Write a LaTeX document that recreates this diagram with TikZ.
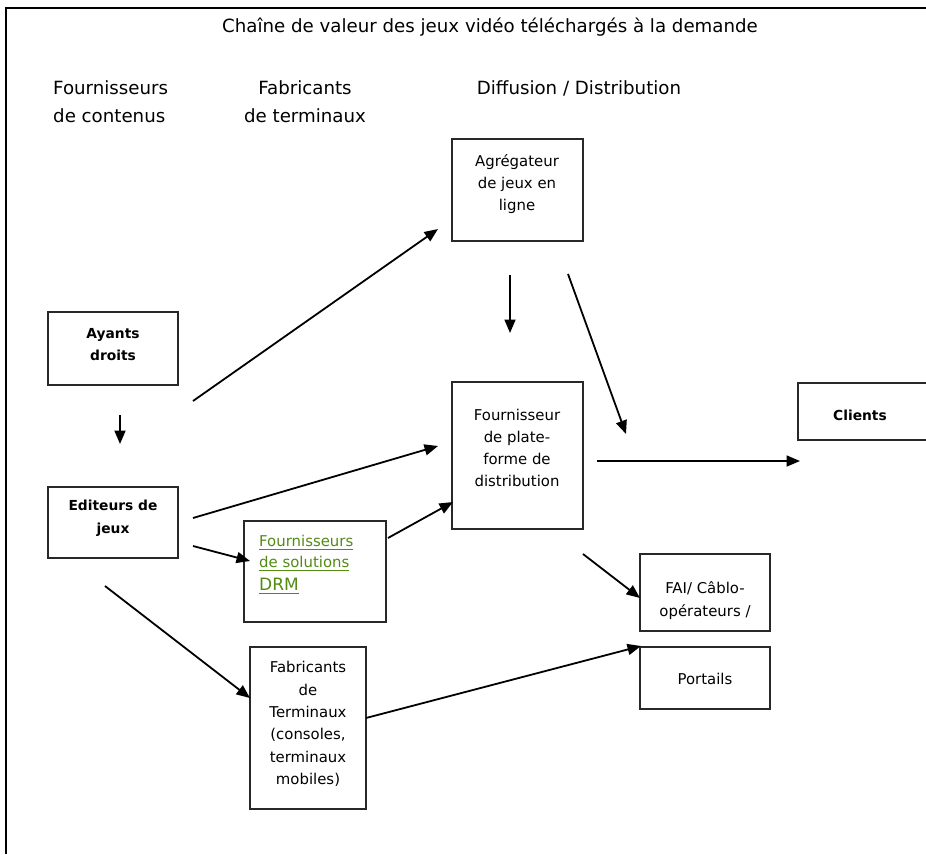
\documentclass[tikz,border=0pt]{standalone}
\usepackage{fontspec}
\setmainfont{DejaVu Sans}
\usetikzlibrary{arrows.meta}
\definecolor{drmgreen}{RGB}{82,138,18}
\definecolor{boxline}{RGB}{40,40,40}
\newsavebox\ulbox
\newcommand\gul[1]{\sbox\ulbox{#1}\leavevmode\rlap{\raisebox{-3.6pt}{\rule{\wd\ulbox}{1.7pt}}}\usebox\ulbox}
\tikzset{
  box/.style={draw=boxline, line width=1.4pt, inner sep=0pt, rectangle},
  boxtext/.style={inner sep=0pt, align=center, font=\fontsize{14.9}{22.2}\selectfont},
  boldtext/.style={inner sep=0pt, align=center, font=\fontsize{13.8}{22.5}\selectfont\bfseries},
  headtext/.style={inner sep=0pt, font=\fontsize{18.2}{28}\selectfont},
  conn/.style={line width=1.8pt, -{Triangle[length=13.5pt,width=11pt]}},
  frame/.style={line width=1.3pt}
}
\begin{document}
\begin{tikzpicture}[x=1pt,y=-1pt]
\useasboundingbox (0,0) rectangle (926,854);
% frame
\coordinate (fTL) at (6,8);
\coordinate (fTR) at (926,8);
\coordinate (fBL) at (6,854);
\draw[frame] (fTR) -- (fTL) -- (fBL);
% headers
\node[headtext] (title) at (490,27) {Chaîne de valeur des jeux vidéo téléchargés à la demande};
\node[headtext, align=left, anchor=west] (h1) at (53,102) {Fournisseurs\\de contenus};
\node[headtext, align=center] (h2) at (305,102) {Fabricants\\de terminaux};
\node[headtext] (h3) at (579,88) {Diffusion / Distribution};
% boxes
\node[box, minimum width=130, minimum height=73] (ayants) at (113,348.5) {};
\node[boldtext] (ayantsT) at (113,344.5) {Ayants\\droits};
\node[box, minimum width=130, minimum height=71] (edit) at (113,522.5) {};
\node[boldtext] (editT) at (113,518) {Editeurs de\\jeux};
\node[box, minimum width=131, minimum height=102] (agg) at (517.5,190) {};
\node[boxtext] (aggT) at (517,184) {Agrégateur\\de jeux en\\ligne};
\node[box, minimum width=131, minimum height=147] (four) at (517.5,455.5) {};
\node[boxtext] (fourT) at (517,448) {Fournisseur\\de plate-\\forme de\\distribution};
\node[box, minimum width=140, minimum height=57] (cli) at (868,411.5) {};
\node[boldtext] (cliT) at (860,415) {Clients};
\node[box, minimum width=142, minimum height=101] (drm) at (315,571.5) {};
\node[inner sep=0pt, align=left, anchor=west, text=drmgreen, font=\fontsize{14.9}{21}\selectfont] (drmT) at (259,565)
  {\gul{Fournisseurs}\\\gul{de solutions}\\[2pt]{\fontsize{17}{21}\selectfont\gul{DRM}}};
\node[box, minimum width=130, minimum height=77] (fai) at (705,592.5) {};
\node[boxtext] (faiT) at (705,600.5) {FAI/ Câblo-\\opérateurs /};
\node[box, minimum width=130, minimum height=62] (port) at (705,678) {};
\node[boxtext] (portT) at (705,679) {Portails};
\node[box, minimum width=116, minimum height=162] (fab) at (308,728) {};
\node[boxtext, font=\fontsize{14.9}{22.4}\selectfont] (fabT) at (308,724) {Fabricants\\de\\Terminaux\\(consoles,\\terminaux\\mobiles)};
% connector end points
\coordinate (a1s) at (120,415);  \coordinate (a1e) at (120,444);
\coordinate (a2s) at (193,401);  \coordinate (a2e) at (438,229);
\coordinate (a3s) at (193,518);  \coordinate (a3e) at (438,446);
\coordinate (a4s) at (193,546);  \coordinate (a4e) at (250,561);
\coordinate (a5s) at (105,586);  \coordinate (a5e) at (250,698);
\coordinate (a6s) at (388,538);  \coordinate (a6e) at (453,502);
\coordinate (a7s) at (510,275);  \coordinate (a7e) at (510,333);
\coordinate (a8s) at (568,274);  \coordinate (a8e) at (626,434);
\coordinate (a9s) at (597,461);  \coordinate (a9e) at (800,461);
\coordinate (a10s) at (583,554); \coordinate (a10e) at (640,598);
\coordinate (a11s) at (366,718); \coordinate (a11e) at (641,646);
\draw[conn] (a1s) -- (a1e);
\draw[conn] (a2s) -- (a2e);
\draw[conn] (a3s) -- (a3e);
\draw[conn] (a4s) -- (a4e);
\draw[conn] (a5s) -- (a5e);
\draw[conn] (a6s) -- (a6e);
\draw[conn] (a7s) -- (a7e);
\draw[conn] (a8s) -- (a8e);
\draw[conn] (a9s) -- (a9e);
\draw[conn] (a10s) -- (a10e);
\draw[conn] (a11s) -- (a11e);
\end{tikzpicture}
\end{document}
